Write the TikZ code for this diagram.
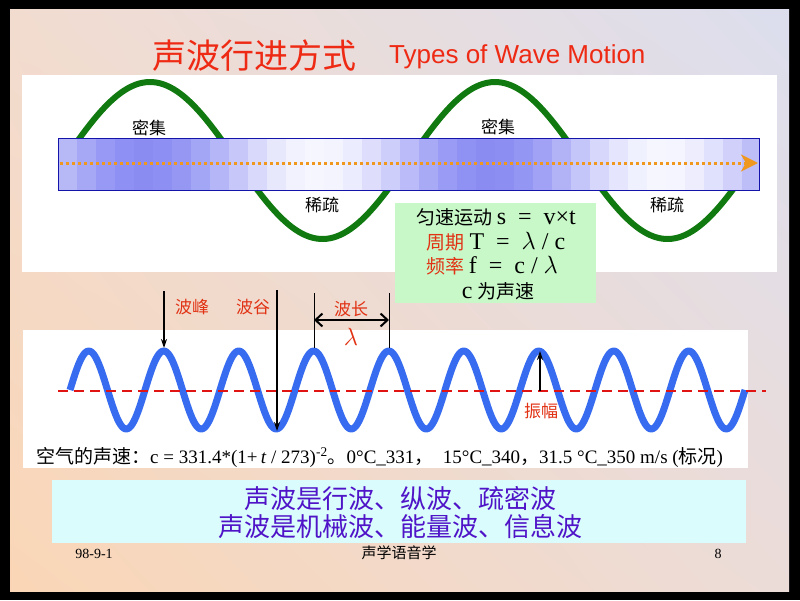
\documentclass[tikz,border=0pt]{standalone}
\usepackage{fontspec}
\setmainfont{Liberation Serif}
\setsansfont{Liberation Sans}
\newfontfamily\cjk{Noto Sans CJK SC}
\usepackage{tikz}
\usetikzlibrary{arrows.meta}
\usetikzlibrary{shadings}

\definecolor{bgUL}{RGB}{242,220,208}
\definecolor{bgUR}{RGB}{220,222,238}
\definecolor{bgLL}{RGB}{250,214,182}
\definecolor{bgLR}{RGB}{236,220,216}
\definecolor{titlered}{RGB}{238,42,20}
\definecolor{labelred}{RGB}{225,50,20}
\definecolor{wavegreen}{RGB}{16,122,16}
\definecolor{bandD}{RGB}{138,140,242}
\definecolor{bandL}{RGB}{246,246,255}
\definecolor{barblue}{RGB}{20,20,170}
\definecolor{dotorange}{RGB}{240,152,30}
\definecolor{boxgreen}{RGB}{200,248,200}
\definecolor{waveblue}{RGB}{56,108,240}
\definecolor{axisred}{RGB}{225,20,20}
\definecolor{boxcyan}{RGB}{218,252,252}
\definecolor{textpurple}{RGB}{80,20,200}

\begin{document}
\begin{tikzpicture}[x=1pt,y=-1pt,
		cnlabel/.style={inner sep=0pt, font=\cjk\fontsize{17}{17}\selectfont},
		redlabel/.style={cnlabel, text=labelred},
		formula/.style={inner sep=0pt, font=\fontsize{19}{19}\selectfont},
		pointer/.style={draw=black, line width=1.5pt, -{Stealth[length=9pt,width=6pt]}}
	]
		\useasboundingbox[fill=black] (0,0) rectangle (800,600);
		\shade[upper left=bgUL, upper right=bgUR, lower left=bgLL, lower right=bgLR] (10,9) rectangle (789,591);

		\node[inner sep=0pt, text=titlered, font=\cjk\fontsize{34}{34}\selectfont] (title) at (254,56) {声波行进方式};
		\node[inner sep=0pt, anchor=west, text=titlered, font=\sffamily\fontsize{26}{26}\selectfont] (subtitle) at (389,57) {Types of Wave Motion};

		\begin{scope}
				\fill[white] (22,75) rectangle (777,272);
				\draw[wavegreen, line width=6pt, line join=round] plot[domain=62:755, samples=200] (\x,{160.5-78.5*cos((\x-150)/345*360)});
				\foreach \i in {0,...,36}
				{
				\pgfmathsetmacro{\sm}{58+19*\i}
				\pgfmathsetmacro{\em}{min(759,\sm+19)}
				\pgfmathsetmacro{\p}{50+50*cos((\sm+9.5-145)/345*360)}
				\fill[bandD!\p!bandL] (\sm,138) rectangle (\em,190);
				}
				\draw[barblue, line width=0.8pt] (58,138) rectangle (759,190);
				\coordinate (flowstart) at (60,163);
				\coordinate (flowend) at (758,163);
				\draw[dotorange, line width=3pt, dash pattern=on 3pt off 3pt, -{Stealth[length=17pt,width=17pt,inset=5pt]}] (flowstart) -- (flowend);

				\node[cnlabel] (dense1) at (149,128) {密集};
				\node[cnlabel] (dense2) at (498,127) {密集};
				\node[cnlabel] (sparse1) at (322,205) {稀疏};
				\node[cnlabel] (sparse2) at (667,205) {稀疏};

				\node[fill=boxgreen, anchor=north west, minimum width=201pt, minimum height=100pt, inner sep=0pt] (formulabox) at (395,203) {};
				\node[formula] (speed) at (496,217) {{\cjk 匀速运动} \fontsize{24}{24}\selectfont s\enspace=\enspace v×t};
				\node[formula] (period) at (496,242) {{\cjk\color{labelred} 周期} \fontsize{24}{24}\selectfont T\enspace=\enspace$\lambda$ / c};
				\node[formula] (freq) at (492,266) {{\cjk\color{labelred} 频率} \fontsize{24}{24}\selectfont f\enspace=\enspace c / $\lambda$};
				\node[formula] (cdef) at (498,291) {{\fontsize{24}{24}\selectfont c} {\cjk 为声速}};
		\end{scope}

		\begin{scope}
				\fill[white] (23,330) rectangle (748,468);
				\draw[waveblue, line width=7pt, line join=round] plot[domain=70:745, samples=400] (\x,{390-39*sin((\x-70)/75*360)});
				\coordinate (axisL) at (58,391);
				\coordinate (axisR) at (766,391);
				\draw[axisred, line width=2pt, dash pattern=on 10pt off 6pt] (axisL) -- (axisR);

				\coordinate (crestTop) at (164,291);
				\coordinate (crest) at (164,348);
				\draw[pointer] (crestTop) -- (crest);
				\coordinate (troughTop) at (277,290);
				\coordinate (trough) at (277,431);
				\draw[pointer, line width=2pt] (troughTop) -- (trough);
				\coordinate (ampBase) at (540,391);
				\coordinate (ampTop) at (540,351);
				\draw[pointer, line width=2pt] (ampBase) -- (ampTop);

				\foreach \name/\xx in {lamL/314, lamR/389}
				{
				\coordinate (\name Top) at (\xx,293);
				\coordinate (\name Bot) at (\xx,348);
				\draw[black, line width=1pt] (\name Top) -- (\name Bot);
				\coordinate (\name) at (\xx,320);
				}
				\draw[black, line width=2pt, {Straight Barb[length=7pt,width=13pt]}-{Straight Barb[length=7pt,width=13pt]}] (lamL) -- (lamR);

				\node[redlabel] (peaklabel) at (192,307) {波峰};
				\node[redlabel] (troughlabel) at (253,307) {波谷};
				\node[redlabel] (wavelen) at (351,309) {波长};
				\node[inner sep=0pt, text=labelred, font=\fontsize{24}{24}\selectfont] (lambda) at (351,337) {$\lambda$};
				\node[redlabel] (amplabel) at (541,411) {振幅};

				\node[inner sep=0pt, anchor=west, font=\fontsize{19}{19}\selectfont] (airspeed) at (36,457) {{\cjk 空气的声速：}c = 331.4*(1+\,\textit{t} / 273)\textsuperscript{-2}{\cjk 。}0°C\_331{\cjk ，}\ \ 15°C\_340{\cjk ，}31.5 °C\_350 m/s ({\cjk 标况})};
		\end{scope}

		\node[fill=boxcyan, anchor=north west, minimum width=694pt, minimum height=63pt, inner sep=0pt] (summarybox) at (52,480) {};
		\node[inner sep=0pt, text=textpurple, font=\cjk\fontsize{26}{26}\selectfont] (summary1) at (400,499) {声波是行波、纵波、疏密波};
		\node[inner sep=0pt, text=textpurple, font=\cjk\fontsize{26}{26}\selectfont] (summary2) at (400,527) {声波是机械波、能量波、信息波};

		\node[inner sep=0pt, font=\fontsize{14}{14}\selectfont] (date) at (94,554) {98-9-1};
		\node[inner sep=0pt, font=\cjk\fontsize{15}{15}\selectfont] (course) at (399,553) {声学语音学};
		\node[inner sep=0pt, font=\fontsize{14}{14}\selectfont] (pageno) at (718,554) {8};
\end{tikzpicture}
\end{document}
